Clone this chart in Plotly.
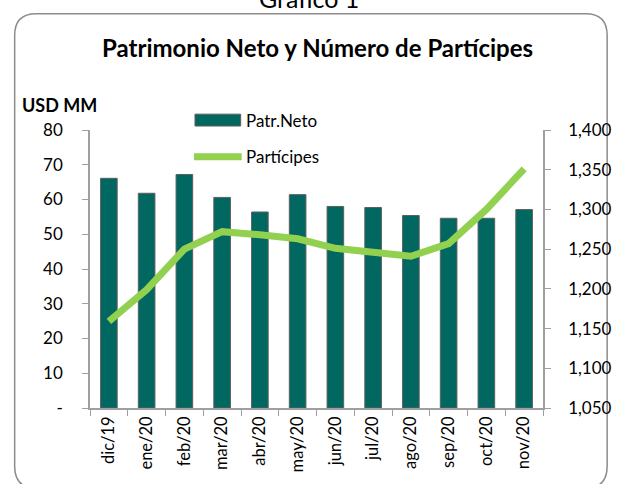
import plotly.graph_objects as go

categories = ["dic/19", "ene/20", "feb/20", "mar/20", "abr/20", "may/20",
              "jun/20", "jul/20", "ago/20", "sep/20", "oct/20", "nov/20"]
patr_neto = [66.1, 61.8, 67.2, 60.6, 56.4, 61.4, 58.0, 57.7, 55.4, 54.6, 54.6, 57.1]
participes = [1159, 1199, 1250, 1272, 1268, 1263, 1251, 1247, 1241, 1257, 1300, 1351]
left_ticks = [0, 10, 20, 30, 40, 50, 60, 70, 80]
left_labels = ["-", "10", "20", "30", "40", "50", "60", "70", "80"]
right_ticks = [1050, 1100, 1150, 1200, 1250, 1300, 1350, 1400]
right_labels = ["1,050", "1,100", "1,150", "1,200", "1,250", "1,300", "1,350", "1,400"]

W, H = 624, 484
L, R, T, B = 90, 556, 130, 411
FONT = "Lato"
BAR_COLOR = "#006860"
BAR_EDGE = "#5f5f5f"
LINE_COLOR = "#92D050"


def px(x):
    return (x - L) / (R - L)


def py(y):
    return (B - y) / (B - T)


fig = go.Figure()
fig.add_trace(go.Bar(
    x=categories, y=patr_neto, name="Patr.Neto", width=0.44,
    marker=dict(color=BAR_COLOR, line=dict(color=BAR_EDGE, width=1)),
))
fig.add_trace(go.Scatter(
    x=categories, y=participes, name="Partícipes", mode="lines", yaxis="y2",
    line=dict(color=LINE_COLOR, width=7),
))

# rounded border
x0, y0, x1, y1, r = 12.5, 12.5, 622, 492, 22
path = (f"M {px(x0+r)},{py(y0)} L {px(x1-r)},{py(y0)} "
        f"Q {px(x1)},{py(y0)} {px(x1)},{py(y0+r)} "
        f"L {px(x1)},{py(y1-r)} Q {px(x1)},{py(y1)} {px(x1-r)},{py(y1)} "
        f"L {px(x0+r)},{py(y1)} Q {px(x0)},{py(y1)} {px(x0)},{py(y1-r)} "
        f"L {px(x0)},{py(y0+r)} Q {px(x0)},{py(y0)} {px(x0+r)},{py(y0)} Z")
fig.add_shape(type="path", path=path, xref="paper", yref="paper",
              line=dict(color="#8c8c8c", width=1.5), layer="below")

# manual legend
fig.add_shape(type="rect", xref="paper", yref="paper",
              x0=px(198), x1=px(245), y0=py(126), y1=py(114),
              fillcolor=BAR_COLOR, line=dict(color=BAR_EDGE, width=1))
fig.add_shape(type="line", xref="paper", yref="paper",
              x0=px(197), x1=px(246), y0=py(157), y1=py(157),
              line=dict(color=LINE_COLOR, width=7))

fig.update_layout(
    width=W, height=H,
    margin=dict(l=L, r=W - R, t=T, b=H - B, pad=0),
    paper_bgcolor="white", plot_bgcolor="white",
    font=dict(family=FONT, color="black", size=17),
    showlegend=False,
    xaxis=dict(type="category", showline=True, linecolor="#a0a0a0", linewidth=1.5,
               ticks="outside", ticklen=6, tickcolor="#a0a0a0", tickson="boundaries",
               tickangle=-90, tickfont=dict(size=16.5, family=FONT), showgrid=False,
               range=[-0.5, 11.5]),
    yaxis=dict(range=[0, 80], tickvals=left_ticks, ticktext=left_labels,
               showline=True, linecolor="#a0a0a0", linewidth=1.5,
               ticks="outside", ticklen=6, tickcolor="#a0a0a0",
               tickfont=dict(size=17, family=FONT), showgrid=False, zeroline=False,
               ticklabelstandoff=16),
    yaxis2=dict(range=[1050, 1400], tickvals=right_ticks, ticktext=right_labels,
                overlaying="y", side="right", showline=True, linecolor="#a0a0a0",
                linewidth=1.5, ticks="outside", ticklen=6, tickcolor="#a0a0a0",
                tickfont=dict(size=17, family=FONT), showgrid=False, zeroline=False,
                ticklabelstandoff=14),
    annotations=[
        dict(text="<b>Patrimonio Neto y Número de Partícipes</b>", x=px(324), y=py(47),
             xref="paper", yref="paper", showarrow=False, xanchor="center",
             yanchor="middle", font=dict(size=24, family=FONT)),
        dict(text="<b>USD MM</b>", x=px(18), y=py(105), xref="paper", yref="paper",
             showarrow=False, xanchor="left", yanchor="middle",
             font=dict(size=18, family=FONT)),
        dict(text="Gráfico 1", x=px(315), y=py(-3), xref="paper", yref="paper",
             showarrow=False, xanchor="center", yanchor="middle",
             font=dict(size=25, family=FONT)),
        dict(text="Patr.Neto", x=px(248), y=py(120), xref="paper", yref="paper",
             showarrow=False, xanchor="left", yanchor="middle",
             font=dict(size=17, family=FONT)),
        dict(text="Partícipes", x=px(248), y=py(157), xref="paper", yref="paper",
             showarrow=False, xanchor="left", yanchor="middle",
             font=dict(size=17, family=FONT)),
    ],
)

fig.write_html("out.html", config={"displayModeBar": False},
               post_script="document.body.style.margin='0px';")
